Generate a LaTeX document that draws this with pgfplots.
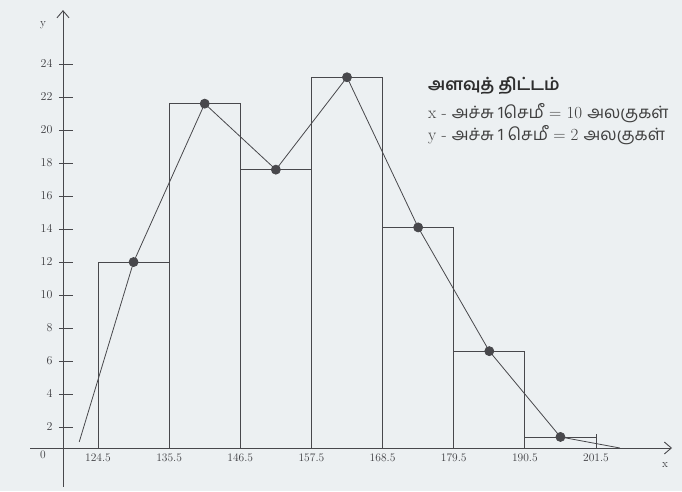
\documentclass[border=0pt]{standalone}
\usepackage{pgfplots}
\pgfplotsset{compat=1.18}
\usepackage{pgfplotstable}
\usepackage{fontspec}
\usetikzlibrary{arrows.meta}
\newfontfamily\tamil[Script=Tamil]{Hind Madurai}
\definecolor{paper}{RGB}{236,240,242}
\definecolor{ink}{RGB}{72,72,76}
\definecolor{txt}{RGB}{60,60,64}

% class boundaries (left edge) and frequencies; last row closes the final interval
\pgfplotstableread{
left freq
124.5 12
135.5 21.6
146.5 17.6
157.5 23.2
168.5 14.1
179.5 6.6
190.5 1.4
201.5 1.4
}\histdata

% frequency polygon through the class mid-points
\pgfplotstableread{
mid freq
121.6 1.1
130 12
141 21.6
152 17.6
163 23.2
174 14.1
185 6.6
196 1.4
205.2 0.73
}\polydata

\begin{document}
\begin{tikzpicture}
\path[use as bounding box, fill=paper] (-63pt,-43pt) rectangle (619pt,448pt);
\begin{axis}[
  scale only axis, width=609pt, height=437.9pt,
  xmin=119.09, xmax=213.25, ymin=0.73, ymax=27.27,
  axis lines=left,
  axis line style={ink, line width=0.9pt, -{Straight Barb[length=7pt,width=12pt]}},
  ytick={2,4,...,24},
  xtick={124.5,135.5,146.5,157.5,168.5,179.5,190.5,201.5},
  xticklabels={124.5,135.5,146.5,157.5,168.5,179.5,190.5,201.5},
  major tick length=14pt,
  ytick align=center, xtick align=inside,
  ytick style={ink, line width=0.9pt, xshift=3pt},
  xtick style={ink, line width=0.9pt},
  ticklabel style={font=\fontsize{11.5}{13}\selectfont, text=txt},
  xticklabel style={yshift=-2pt},
]
\addplot[ybar interval, draw=ink, fill=none, line width=0.9pt] table[x=left, y=freq] {\histdata};
\addplot[ink, line width=0.8pt, mark=*, mark size=4.5pt, mark options={fill=ink, draw=ink},
  mark indices={2,3,4,5,6,7,8}] table[x=mid, y=freq] {\polydata};
\end{axis}
% axis extensions beyond the origin
\draw[ink, line width=0.9pt] (-33pt,0) -- (0,0);
\draw[ink, line width=0.9pt] (0,0) -- (0,-39pt);
\node[text=txt, font=\fontsize{11.5}{13}\selectfont] at (-20pt,423pt) {y};
\node[text=txt, font=\fontsize{11.5}{13}\selectfont] at (602pt,-17pt) {x};
\node[text=txt, font=\fontsize{11.5}{13}\selectfont] at (-20pt,-7pt) {0};
% scale note
\node[anchor=west, inner sep=0pt, text=black!82, font=\tamil\bfseries\fontsize{17}{19}\selectfont] at (365pt,362pt) {அளவுத் திட்டம்};
\node[anchor=west, inner sep=0pt, text=black!75, font=\fontsize{17}{19}\selectfont] at (365pt,335pt) {x - {\tamil அச்சு 1செமீ} = 10 {\tamil அலகுகள்}};
\node[anchor=west, inner sep=0pt, text=black!75, font=\fontsize{17}{19}\selectfont] at (365pt,313pt) {y - {\tamil அச்சு 1 செமீ} = 2 {\tamil அலகுகள்}};
\end{tikzpicture}
\end{document}
